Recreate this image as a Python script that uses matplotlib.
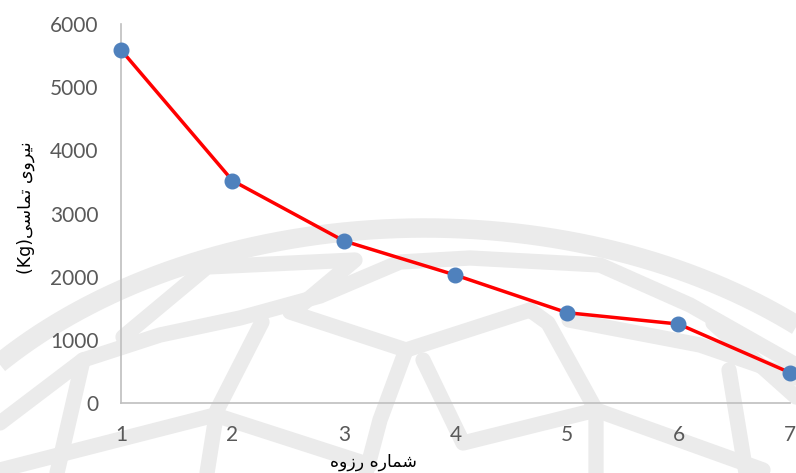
import matplotlib
matplotlib.use("Agg")
import matplotlib.pyplot as plt
from matplotlib import font_manager
from matplotlib.ft2font import FT2Font
import numpy as np

# Data: contact force per thread number
thread_no = [1, 2, 3, 4, 5, 6, 7]
force_kg = [5590, 3520, 2565, 2025, 1430, 1250, 480]
y_ticks = [0, 1000, 2000, 3000, 4000, 5000, 6000]

# Persian labels, pre-shaped into presentation forms in visual order
dejavu_path = font_manager.findfont("DejaVu Sans")
cmap = FT2Font(dejavu_path).get_charmap()
YEH_ISO = "\uFBFC" if 0xFBFC in cmap else "\uFEEF"
YEH_FIN = "\uFBFD" if 0xFBFD in cmap else "\uFEF0"
YEH_MED = "\uFBFF" if 0xFBFF in cmap else "\uFEF4"

# شماره رزوه
x_label = "\uFEE9\uFEED\uFEAF\uFEAD \uFEE9\uFEAD\uFE8E\uFEE4\uFEB7"
# نیروی تماسی(Kg)
y_label = ("(Kg)" + YEH_FIN + "\uFEB3\uFE8E\uFEE4\uFE97 "
           + YEH_ISO + "\uFEED\uFEAE" + YEH_MED + "\uFEE7")

W, H = 796, 473
fig = plt.figure(figsize=(W / 100, H / 100), dpi=100)
fig.patch.set_facecolor("white")

# faint dome-shaped background pattern (pixel coordinates, y downwards)
bg = fig.add_axes([0, 0, 1, 1], zorder=0)
bg.set_xlim(0, W)
bg.set_ylim(H, 0)
bg.axis("off")
wm = "#EBEBEB"
t = np.linspace(0, np.pi, 400)
bg.plot(425 + 560 * np.cos(t), 614 - 386 * np.sin(t), color=wm, lw=14,
        solid_capstyle="butt")
dome_struts = [
    [(0, 423), (83, 360), (160, 335), (240, 318), (320, 296), (400, 262),
     (470, 258), (600, 265), (690, 305), (796, 365)],
    [(123, 337), (207, 267), (355, 260), (293, 312)],
    [(262, 322), (217, 410), (207, 473)],
    [(290, 312), (406, 350), (530, 310)],
    [(406, 350), (380, 420), (366, 473)],
    [(83, 360), (57, 473)],
    [(0, 470), (215, 415), (370, 465)],
    [(530, 310), (548, 323), (596, 410), (596, 473)],
    [(569, 320), (700, 345), (796, 378)],
    [(713, 323), (796, 397)],
    [(423, 360), (463, 443), (596, 410), (763, 470)],
    [(729, 370), (746, 473)],
]
for strut in dome_struts:
    xs, ys = zip(*strut)
    bg.plot(xs, ys, color=wm, lw=11, solid_capstyle="round",
            solid_joinstyle="round")

ax = fig.add_axes([121 / W, 1 - 403 / H, (790 - 121) / W, (403 - 24) / H], zorder=1)
ax.patch.set_alpha(0)

ax.plot(thread_no, force_kg, color="#FF0000", lw=2.5, zorder=3, clip_on=False)
ax.plot(thread_no, force_kg, linestyle="none", marker="o", markersize=10.5,
        markerfacecolor="#4F81BD", markeredgecolor="#4F81BD", zorder=4,
        clip_on=False)

ax.set_xlim(1, 7)
ax.set_ylim(0, 6000)
ax.set_xticks(thread_no)
ax.set_yticks(y_ticks)
ax.tick_params(length=0, labelsize=15, labelcolor="#595959", pad=16)
for lab in ax.get_xticklabels() + ax.get_yticklabels():
    lab.set_fontfamily(["Lato", "DejaVu Sans"])

for s in ("top", "right"):
    ax.spines[s].set_visible(False)
for s in ("left", "bottom"):
    ax.spines[s].set_color("#BFBFBF")
    ax.spines[s].set_linewidth(1.2)

fig.text(373 / W, 1 - 462 / H, x_label, ha="center", va="center",
         fontsize=12.5, family=["DejaVu Sans"], color="#000000")
fig.text(26 / W, 1 - 208 / H, y_label, ha="center", va="center", rotation=90,
         fontsize=12.5, family=["DejaVu Sans"], color="#000000")

fig.savefig("out.png", dpi=100, facecolor="white")
